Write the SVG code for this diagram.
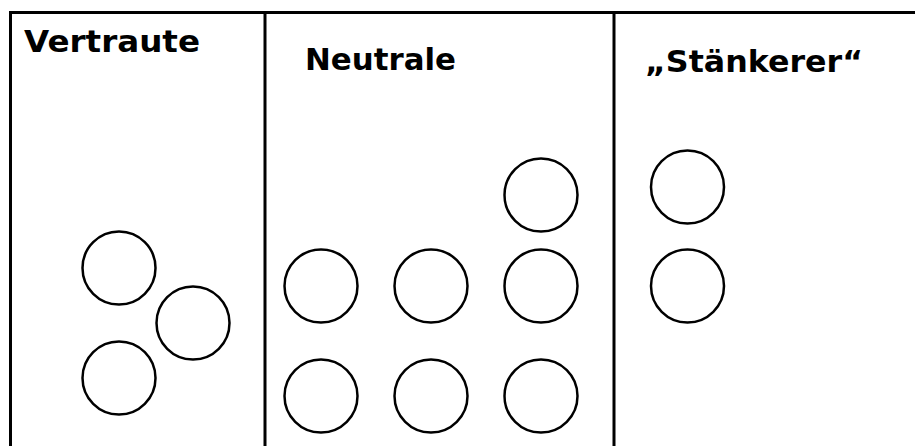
<svg xmlns="http://www.w3.org/2000/svg" width="915" height="446" viewBox="0 0 915 446">
  <style>
    .frame { stroke: #000; stroke-width: 3; fill: none; }
    .person { fill: none; stroke: #000; stroke-width: 2.5; }
    .title { font-family: "DejaVu Sans", Verdana, sans-serif; font-weight: bold; fill: #000; }
  </style>
  <rect width="915" height="446" fill="#fff"/>

  <!-- column frame -->
  <g id="frame">
    <line class="frame" x1="9" y1="12.5" x2="915" y2="12.5"/>
    <line class="frame" x1="10.5" y1="11" x2="10.5" y2="446"/>
    <line class="frame" x1="265" y1="11" x2="265" y2="446"/>
    <line class="frame" x1="614" y1="11" x2="614" y2="446"/>
  </g>

  <!-- column headings -->
  <g id="heading-vertraute">
    <text class="title" x="24" y="52" font-size="30" textLength="176" lengthAdjust="spacingAndGlyphs">Vertraute</text>
  </g>
  <g id="heading-neutrale">
    <text class="title" x="305" y="70" font-size="30" textLength="151" lengthAdjust="spacingAndGlyphs">Neutrale</text>
  </g>
  <g id="heading-staenkerer">
    <text class="title" x="645" y="72" font-size="30" textLength="218" lengthAdjust="spacingAndGlyphs">„Stänkerer“</text>
  </g>

  <!-- people: trusted -->
  <g id="vertraute-1"><circle class="person" cx="119" cy="268" r="36.5"/></g>
  <g id="vertraute-2"><circle class="person" cx="193" cy="323" r="36.5"/></g>
  <g id="vertraute-3"><circle class="person" cx="119" cy="378" r="36.5"/></g>

  <!-- people: neutral -->
  <g id="neutrale-1"><circle class="person" cx="541" cy="195" r="36.5"/></g>
  <g id="neutrale-2"><circle class="person" cx="321" cy="286" r="36.5"/></g>
  <g id="neutrale-3"><circle class="person" cx="431" cy="286" r="36.5"/></g>
  <g id="neutrale-4"><circle class="person" cx="541" cy="286" r="36.5"/></g>
  <g id="neutrale-5"><circle class="person" cx="321" cy="396" r="36.5"/></g>
  <g id="neutrale-6"><circle class="person" cx="431" cy="396" r="36.5"/></g>
  <g id="neutrale-7"><circle class="person" cx="541" cy="396" r="36.5"/></g>

  <!-- people: troublemakers -->
  <g id="staenkerer-1"><circle class="person" cx="687.5" cy="187" r="36.5"/></g>
  <g id="staenkerer-2"><circle class="person" cx="687.5" cy="286" r="36.5"/></g>

  <g id="connectors"/>
</svg>
